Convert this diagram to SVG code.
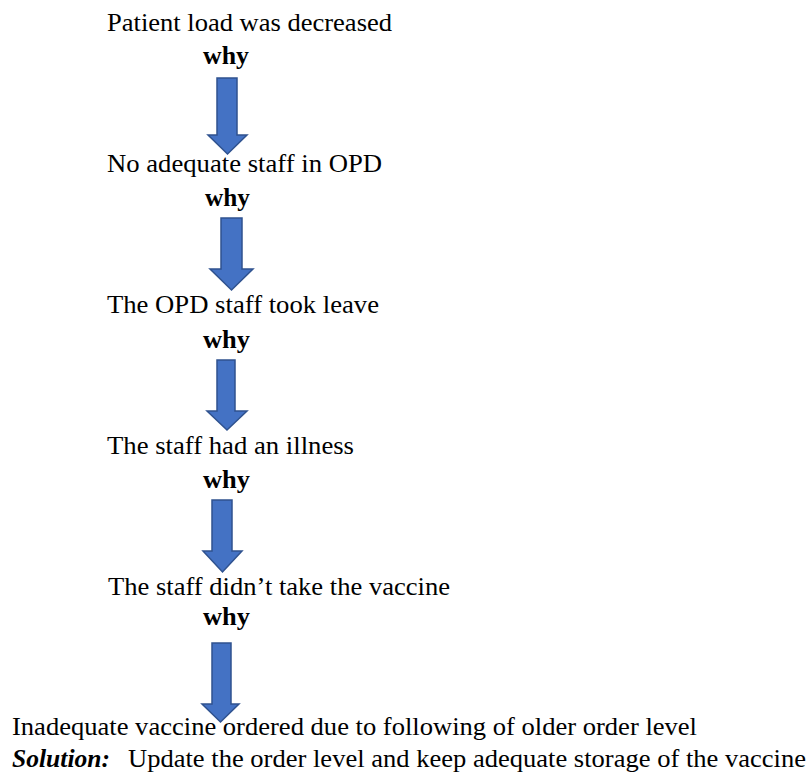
<svg xmlns="http://www.w3.org/2000/svg" width="808" height="774" viewBox="0 0 808 774">
<style>
  text { font-family: "Liberation Serif", "Times New Roman", serif; font-size: 26px; fill: #000; }
  .why { font-weight: bold; }
  .arrow { fill: #4472C4; stroke: #2F528F; stroke-width: 1.5; stroke-linejoin: miter; }
</style>
<rect width="808" height="774" fill="#fff"/>
<g id="node1"><text x="107" y="31" textLength="285" lengthAdjust="spacingAndGlyphs">Patient load was decreased</text></g>
<g id="why1"><text class="why" x="203" y="64" textLength="46" lengthAdjust="spacingAndGlyphs">why</text></g>
<g id="node2"><text x="107" y="172" textLength="275" lengthAdjust="spacingAndGlyphs">No adequate staff in OPD</text></g>
<g id="why2"><text class="why" x="205" y="206" textLength="45" lengthAdjust="spacingAndGlyphs">why</text></g>
<g id="node3"><text x="107" y="313" textLength="272" lengthAdjust="spacingAndGlyphs">The OPD staff took leave</text></g>
<g id="why3"><text class="why" x="203" y="348" textLength="47" lengthAdjust="spacingAndGlyphs">why</text></g>
<g id="node4"><text x="107" y="454" textLength="247" lengthAdjust="spacingAndGlyphs">The staff had an illness</text></g>
<g id="why4"><text class="why" x="203" y="488" textLength="47" lengthAdjust="spacingAndGlyphs">why</text></g>
<g id="node5"><text x="108" y="595" textLength="342" lengthAdjust="spacingAndGlyphs">The staff didn’t take the vaccine</text></g>
<g id="why5"><text class="why" x="203" y="625" textLength="47" lengthAdjust="spacingAndGlyphs">why</text></g>
<g id="node6"><text x="12" y="735" textLength="685" lengthAdjust="spacingAndGlyphs">Inadequate vaccine ordered due to following of older order level</text></g>
<g id="solution">
  <text x="12" y="767" font-weight="bold" font-style="italic" textLength="98" lengthAdjust="spacingAndGlyphs">Solution:</text>
  <text x="128" y="767" textLength="678" lengthAdjust="spacingAndGlyphs">Update the order level and keep adequate storage of the vaccine</text>
</g>
<g id="connectors">
  <path class="arrow" d="M217,78 H237 V135 H247 L227.5,154 L208,135 H217 Z"/>
  <path class="arrow" d="M221,218 H242 V269 H253 L231.5,290 L210,269 H221 Z"/>
  <path class="arrow" d="M217,360 H235 V411 H247 L227,430 L207,411 H217 Z"/>
  <path class="arrow" d="M212,500 H232 V551 H242 L222.5,572 L203,551 H212 Z"/>
  <path class="arrow" d="M212,643 H231 V704 H239 L220.5,722 L202,704 H212 Z"/>
</g>
</svg>
